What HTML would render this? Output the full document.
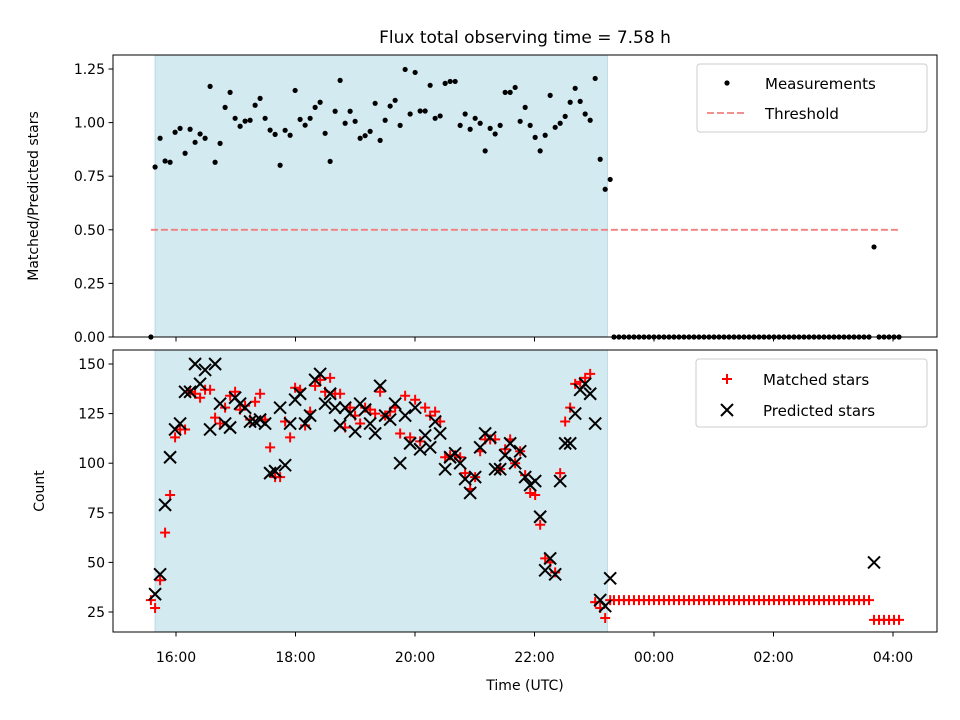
<!DOCTYPE html>
<html><head><meta charset="utf-8"><style>
html,body{margin:0;padding:0;background:#fff;}
svg{display:block;font-family:"DejaVu Sans","Liberation Sans",sans-serif;}
</style></head><body>
<svg id="c" width="960" height="720" xmlns="http://www.w3.org/2000/svg"></svg>
<script>
const ratioVals = [0.793,0.927,0.821,0.815,0.955,0.973,0.857,0.969,0.908,0.947,0.927,1.169,0.815,0.903,1.071,1.141,1.020,0.983,1.007,1.011,1.081,1.113,1.020,0.965,0.945,0.801,0.964,0.941,1.150,1.015,0.988,1.020,1.071,1.095,0.950,0.819,1.053,1.197,0.997,1.053,1.006,0.927,0.939,0.959,1.090,0.917,
1.011,1.077,1.104,0.987,1.248,1.040,1.234,1.054,1.054,1.174,1.020,1.031,1.183,1.192,1.192,0.987,1.040,0.969,1.020,0.997,0.868,0.973,0.947,0.987,1.141,1.141,1.164,1.006,1.071,0.987,0.931,0.868,0.941,1.127,0.978,0.997,1.029,1.095,1.160,1.099,1.040,1.011,1.206,0.829,0.689,0.735];
const predictedVals = [34,44,79,103,117,120,136,136,150,140,147,117,150,130,120,118,133,130,128,121,121,122,120,95,96,128,99,120,132,135,120,124,142,145,130,135,128,119,128,125,116,130,127,120,115,139,124,122,130,100,124,110,128,107,114,108,121,115,97,103,105,100,92,85,93,108,115,113,97,97,104,110,100,106,93,89,91,73,46,52,44,91,110,110,125,137,140,135,120,31,28,42];
const matchedVals = [27,41,65,84,113,117,117,136,135,133,137,137,123,120,128,134,136,127,129,122,131,135,122,108,93,93,121,113,138,137,119,126,139,142,136,143,135,135,118,128,124,120,128,127,125,136,124,126,128,115,134,113,132,111,128,124,126,121,103,104,104,103,95,87,93,106,112,112,112,97,107,112,100,106,94,85,84,69,52,50,45,95,121,128,140,141,143,145,30,27,22,31];
const obsStart = 15.65, obsStep = 0.0837;
const lateStart = 23.33, lateCount = 58, lateSpecialIdx = 52;
const lateRatioSpecial = 0.42, latePredSpecial = 50, lateMatchedA = 31, lateMatchedB = 21;
const preTime = 15.58, preRatio = 0, preMatched = 31;
const xTicks = [16,18,20,22,24,26,28];
const xTickLabels = ["16:00","18:00","20:00","22:00","00:00","02:00","04:00"];
const topTicks = [0,0.25,0.5,0.75,1.0,1.25];
const topTickLabels = ["0.00","0.25","0.50","0.75","1.00","1.25"];
const botTicks = [25,50,75,100,125,150];
const threshold = 0.5;
const spanStart = 15.65, spanEnd = 23.22;

const svg = document.getElementById('c');
const NS = "http://www.w3.org/2000/svg";
function mk(tag, attrs, parent, text){const e=document.createElementNS(NS,tag);for(const k in attrs)e.setAttribute(k,attrs[k]);if(text!==undefined)e.textContent=text;(parent||svg).appendChild(e);return e;}
const L=113,R=937;
const xs = h => 176 + (h-16)*59.75;
const T={top:55,bot:337}, B={top:350,bot:632};
const yTop = v => 337 - v*214.4;
const yBot = v => 612 - (v-25)*1.984;

const times = ratioVals.map((_,i)=>obsStart+i*obsStep);
const lateTimes = []; for(let j=0;j<lateCount;j++) lateTimes.push(lateStart+j*obsStep);

mk('text',{x:525,y:43,'text-anchor':'middle','font-size':'17',},svg,'Flux total observing time = 7.58 h');

function panel(P, name){
  const g = mk('g',{});
  const s = mk('rect',{x:xs(spanStart),y:P.top,width:xs(spanEnd)-xs(spanStart),height:P.bot-P.top,fill:'#d3eaf0',stroke:'#b9dbe6','stroke-width':1},g);
  
  
  return g;
}
const gt = panel(T,'top-panel'), gb = panel(B,'bottom-panel');

const th = mk('line',{x1:xs(preTime),x2:xs(lateTimes[lateCount-1]),y1:yTop(threshold),y2:yTop(threshold),stroke:'#f08080','stroke-width':1.8,'stroke-dasharray':'7,3'},gt);



function dot(t,v){const c=mk('circle',{cx:xs(t),cy:yTop(v),r:2.6,fill:'#000'},gt);

}
dot(preTime,preRatio);
times.forEach((t,i)=>dot(t,ratioVals[i]));
lateTimes.forEach((t,j)=>dot(t, j===lateSpecialIdx?lateRatioSpecial:0));

function plus(t,v,g){const x=xs(t),y=yBot(v);const p=mk('path',{d:`M${x-5} ${y}H${x+5}M${x} ${y-5}V${y+5}`,stroke:'#ff0000','stroke-width':2,fill:'none'},g);

}
function cross(t,v,g){const x=xs(t),y=yBot(v);const p=mk('path',{d:`M${x-6} ${y-6}L${x+6} ${y+6}M${x-6} ${y+6}L${x+6} ${y-6}`,stroke:'#000','stroke-width':2,fill:'none'},g);

}
plus(preTime,preMatched,gb);
times.forEach((t,i)=>plus(t,matchedVals[i],gb));
lateTimes.forEach((t,j)=>plus(t, j<lateSpecialIdx?lateMatchedA:lateMatchedB,gb));
times.forEach((t,i)=>cross(t,predictedVals[i],gb));
cross(lateTimes[lateSpecialIdx],latePredSpecial,gb);

[[T,gt,'top'],[B,gb,'bottom']].forEach(([P,g,n])=>{
  mk('rect',{x:L,y:P.top,width:R-L,height:P.bot-P.top,fill:'none',stroke:'#000','stroke-width':1},g);
  xTicks.forEach((h,i)=>{
    mk('line',{x1:xs(h),x2:xs(h),y1:P.bot,y2:P.bot+4.5,stroke:'#000'},g);
    if(n==='bottom'){const tl=mk('text',{x:xs(h),y:P.bot+30,'text-anchor':'middle','font-size':'14'},g,xTickLabels[i]);
      
      }
  });
});
topTicks.forEach((v,i)=>{mk('line',{x1:L-4.5,x2:L,y1:yTop(v),y2:yTop(v),stroke:'#000'},gt);
  const tl=mk('text',{x:L-8,y:yTop(v)+5,'text-anchor':'end','font-size':'14'},gt,topTickLabels[i]);
  
  });
botTicks.forEach(v=>{mk('line',{x1:L-4.5,x2:L,y1:yBot(v),y2:yBot(v),stroke:'#000'},gb);
  const tl=mk('text',{x:L-8,y:yBot(v)+5,'text-anchor':'end','font-size':'14'},gb,String(v));
  
  });

mk('text',{x:0,y:0,transform:'translate(38,196) rotate(-90)','text-anchor':'middle','font-size':'14',},svg,'Matched/Predicted stars');
mk('text',{x:0,y:0,transform:'translate(44,491) rotate(-90)','text-anchor':'middle','font-size':'14',},svg,'Count');
mk('text',{x:525,y:690,'text-anchor':'middle','font-size':'14',},svg,'Time (UTC)');

const lg1 = mk('g',{});
mk('rect',{x:697,y:64,width:230,height:68,rx:3,fill:'#fff','fill-opacity':0.8,stroke:'#ccc'},lg1);
mk('circle',{cx:727,cy:83,r:2.6,fill:'#000'},lg1);
mk('text',{x:765,y:89,'font-size':'15'},lg1,'Measurements');
mk('line',{x1:707,x2:747,y1:113,y2:113,stroke:'#f08080','stroke-width':1.8,'stroke-dasharray':'7,3'},lg1);
mk('text',{x:765,y:119,'font-size':'15'},lg1,'Threshold');
const lg2 = mk('g',{});
mk('rect',{x:696,y:359,width:231,height:68,rx:3,fill:'#fff','fill-opacity':0.8,stroke:'#ccc'},lg2);
mk('path',{d:'M722 379H732M727 374V384',stroke:'#f00','stroke-width':2},lg2);
mk('text',{x:763,y:385,'font-size':'15'},lg2,'Matched stars');
mk('path',{d:'M721 404L733 416M721 416L733 404',stroke:'#000','stroke-width':2},lg2);
mk('text',{x:763,y:416,'font-size':'15'},lg2,'Predicted stars');
</script>
</body></html>
